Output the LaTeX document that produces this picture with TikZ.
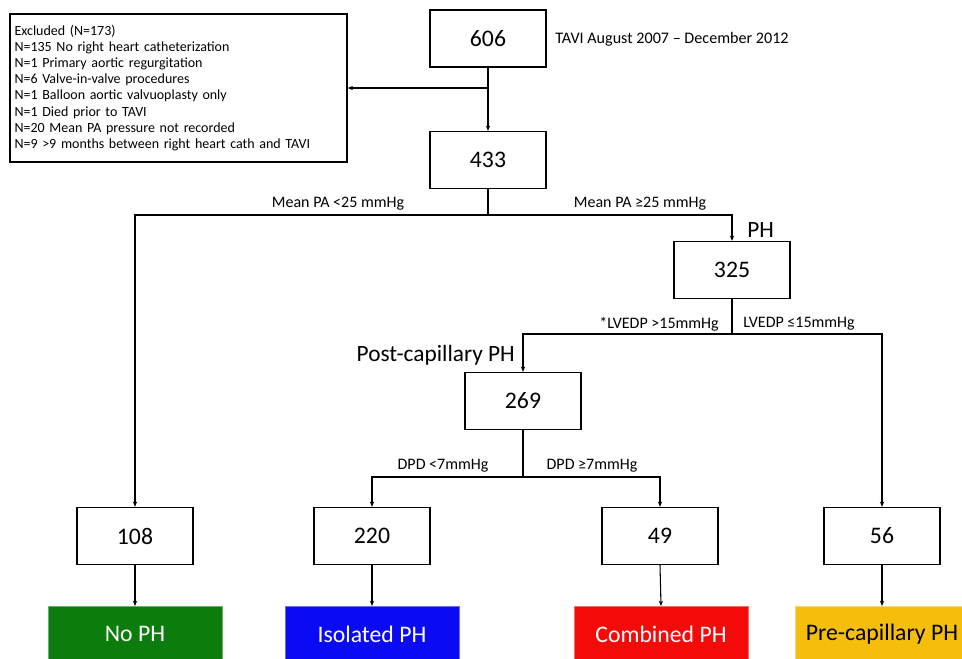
\documentclass[tikz,border=0pt]{standalone}
\usepackage{fontspec}
\setmainfont{Carlito}
\usetikzlibrary{arrows.meta}
\definecolor{cgreen}{RGB}{12,125,12}
\definecolor{cblue}{RGB}{10,10,245}
\definecolor{cred}{RGB}{245,10,10}
\definecolor{cyellow}{RGB}{245,190,12}
\begin{document}
\begin{tikzpicture}[x=0.75pt,y=-0.75pt,
  box/.style={draw, line width=1pt, minimum width=87pt, minimum height=42.75pt,
    font=\fontsize{17.8}{20}\selectfont, inner sep=0pt},
  arr/.style={-{Stealth[length=4pt,width=3.2pt]}, line width=0.8pt},
  ln/.style={line width=0.8pt},
  lab/.style={font=\fontsize{12}{14}\selectfont, inner sep=0pt},
  big/.style={font=\fontsize{17.5}{20}\selectfont, inner sep=0pt},
  outc/.style={minimum width=130.5pt, minimum height=42pt, anchor=north,
    inner sep=0pt, font=\fontsize{17.8}{20}\selectfont, line width=0.6pt}]
\useasboundingbox (0,0) rectangle (962,658);
\clip (0,0) rectangle (962,658);

% boxes
\node[box] (n606) at (488,38.5) {606};
\node[box] (n433) at (488,160) {433};
\node[box] (n325) at (732,270) {325};
\node[box] (n269) at (523,401) {269};
\node[box] (n108) at (135,536) {108};
\node[box] (n220) at (372,536) {220};
\node[box] (n49) at (660,536) {49};
\node[box] (n56) at (882,536) {56};

\node[draw, line width=1pt, minimum width=252.75pt, minimum height=111pt,
  text width=246pt, inner xsep=3pt, align=left,
  font=\fontsize{10.5}{12.1}\selectfont] (excl) at (178.5,88)
  {Excluded (N=173)\\
   N=135 No right heart catheterization\\
   N=1 Primary aortic regurgitation\\
   N=6 Valve-in-valve procedures\\
   N=1 Balloon aortic valvuoplasty only\\
   N=1 Died prior to TAVI\\
   N=20 Mean PA pressure not recorded\\
   N=9 >9 months between right heart cath and TAVI};

% outcome boxes
\node[outc, fill=cgreen, draw=cgreen!60!white, text=white] (o1) at (135,606) {No PH};
\node[outc, fill=cblue, draw=cblue!60!white, text=white] (o2) at (372,606) {Isolated PH};
\node[outc, fill=cred, draw=cred!60!white, text=white] (o3) at (661,606) {Combined PH};
\node[outc, fill=cyellow, draw=cyellow!60!white, text=black] (o4) at (882,606) {Pre-capillary PH};

% labels
\node[anchor=west, inner sep=0pt, font=\fontsize{12.1}{14}\selectfont] (tavi) at (555,39) {TAVI August 2007 -- December 2012};
\node[lab] (l1) at (338,204) {Mean PA <25 mmHg};
\node[lab] (l2) at (640,204) {Mean PA ≥25 mmHg};
\node[big, anchor=base west] (ph) at (747,237) {PH};
\node[lab] (l3) at (659,324) {*LVEDP >15mmHg};
\node[lab] (l4) at (799,324) {LVEDP ≤15mmHg};
\node[big, anchor=base east] (post) at (515,361) {Post-capillary PH};
\node[lab] (l5) at (443,466) {DPD <7mmHg};
\node[lab] (l6) at (592,466) {DPD ≥7mmHg};

% connectors
\coordinate (j1) at (488,88);
\coordinate (j2) at (488,215);
\coordinate (j3) at (732,334);
\coordinate (j4) at (523,477);
\draw[arr] (n606.south) -- (n433.north);
\draw[arr] (j1) -- (excl.east);
\draw[ln] (n433.south) -- (j2);
\draw[arr] (j2) -| (n108.north);
\draw[arr] (j2) -| (n325.north);
\draw[ln] (n325.south) -- (j3);
\draw[arr] (j3) -| (n269.north);
\draw[arr] (j3) -| (n56.north);
\draw[ln] (n269.south) -- (j4);
\draw[arr] (j4) -| (n220.north);
\draw[arr] (j4) -| (n49.north);
\draw[arr] (n108.south) -- (o1.north);
\draw[arr] (n220.south) -- (o2.north);
\draw[arr] (n49.south) -- (o3.north);
\draw[arr] (n56.south) -- (o4.north);
\end{tikzpicture}
\end{document}
